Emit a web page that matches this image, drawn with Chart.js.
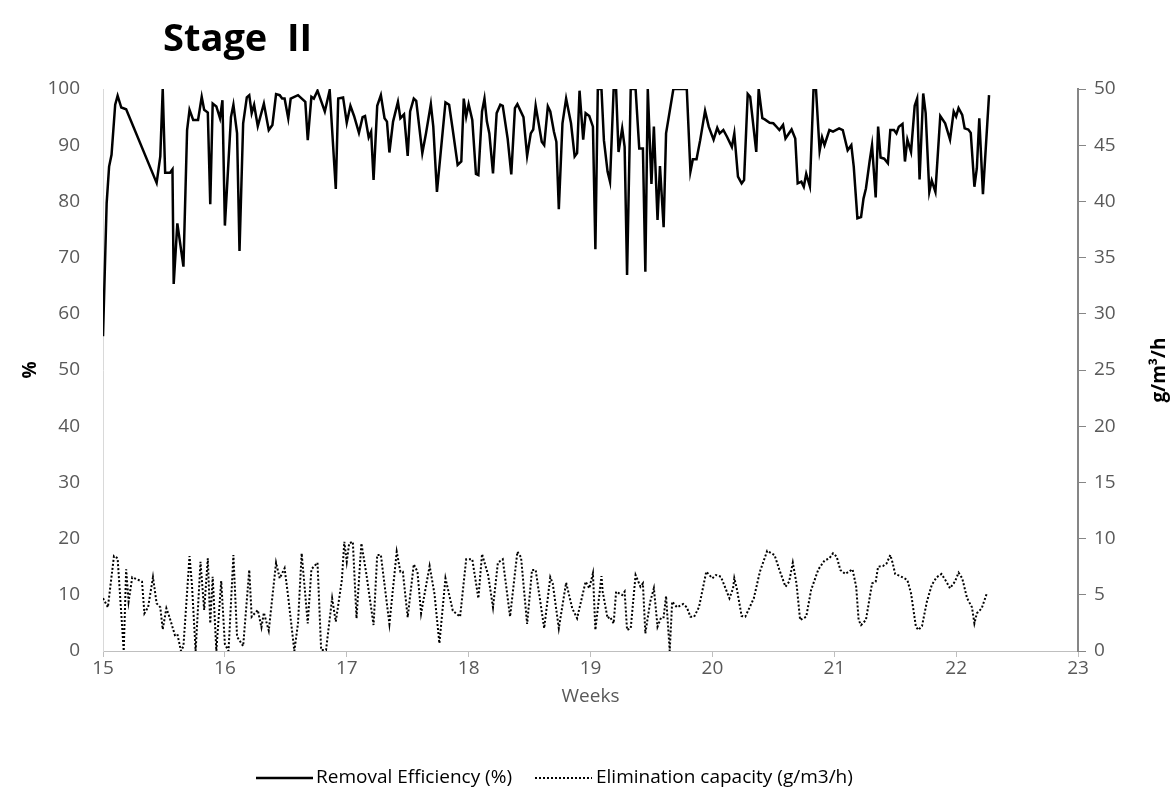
<!DOCTYPE html>
<html><head><meta charset="utf-8">
<script src="https://cdn.jsdelivr.net/npm/chart.js@4.4.1/dist/chart.umd.min.js"></script>
<style>html,body{margin:0;padding:0;background:#fff;}#wrap{width:1174px;height:796px;}</style>
</head><body><div id="wrap"><canvas id="c" width="1174" height="796"></canvas></div>
<script>
const titleText = 'Stage  II';
const xTitle = 'Weeks';
const yLeftTitle = '%';
const yRightTitle = 'g/m³/h';
const seriesNames = ['Removal Efficiency (%)', 'Elimination capacity (g/m3/h)'];
const xTicks = [15,16,17,18,19,20,21,22,23];

const reWeeks = [15.00,15.03,15.05,15.07,15.10,15.12,15.15,15.19,15.44,15.47,
15.49,15.51,15.55,15.57,15.58,15.61,15.66,15.69,15.71,15.74,
15.78,15.81,15.83,15.86,15.88,15.90,15.93,15.96,15.98,16.00,
16.05,16.07,16.10,16.12,16.15,16.18,16.20,16.22,16.24,16.27,
16.32,16.36,16.39,16.42,16.45,16.47,16.49,16.52,16.54,16.60,
16.66,16.68,16.71,16.73,16.76,16.82,16.86,16.91,16.93,16.97,
17.00,17.03,17.06,17.10,17.13,17.15,17.18,17.20,17.22,17.25,
17.28,17.31,17.33,17.35,17.38,17.42,17.44,17.47,17.50,17.52,
17.55,17.57,17.62,17.65,17.69,17.71,17.74,17.81,17.84,17.87,
17.91,17.94,17.96,17.98,18.00,18.03,18.06,18.08,18.11,18.13,
18.15,18.17,18.20,18.23,18.26,18.28,18.32,18.35,18.38,18.40,
18.45,18.48,18.51,18.53,18.55,18.60,18.62,18.65,18.67,18.70,
18.72,18.74,18.77,18.80,18.84,18.87,18.89,18.91,18.94,18.96,
18.99,19.02,19.04,19.06,19.09,19.11,19.14,19.16,19.19,19.21,
19.23,19.26,19.28,19.30,19.33,19.37,19.40,19.43,19.45,19.47,
19.50,19.52,19.55,19.57,19.60,19.62,19.68,19.79,19.82,19.84,
19.87,19.90,19.94,19.97,20.01,20.04,20.06,20.09,20.12,20.16,
20.18,20.21,20.24,20.26,20.29,20.31,20.36,20.38,20.41,20.43,
20.47,20.50,20.53,20.55,20.58,20.60,20.65,20.68,20.70,20.73,
20.75,20.77,20.80,20.83,20.85,20.88,20.90,20.92,20.96,20.99,
21.04,21.07,21.11,21.14,21.16,21.19,21.22,21.24,21.26,21.29,
21.31,21.34,21.36,21.38,21.41,21.44,21.46,21.49,21.51,21.53,
21.56,21.58,21.60,21.63,21.66,21.68,21.70,21.73,21.75,21.78,
21.80,21.83,21.87,21.91,21.95,21.98,22.00,22.02,22.05,22.07,
22.10,22.12,22.15,22.17,22.19,22.22,22.27];
const reValues = [56,79.7,86.2,88.3,97.2,98.8,96.7,96.4,83.3,88,
100,85.1,85.1,85.7,65.3,76.1,68.4,92.7,96.3,94.5,
94.5,98.6,96.3,95.8,79.5,97.4,96.9,94.8,98,75.7,
95,97.2,92.1,71.2,93.9,98.5,98.9,95.7,97.2,93.4,
97.4,92.7,93.6,99.1,98.9,98.3,98.3,94.8,98.3,98.9,
97.7,90.9,98.6,98.3,99.7,96,99.8,82.2,98.3,98.5,
94,97,95.2,92.2,95,95.2,91.4,92.4,83.8,97,
98.9,94.8,94.2,88.7,94.2,97.7,94.8,95.5,88.1,96,
98.3,97.9,88.6,92.1,97.3,93.3,81.7,97.6,97.2,92.7,
86.5,87.1,98.3,95.1,97.3,94.5,84.9,84.7,96,98.3,
94.2,92.1,85,95.7,97.2,97,91.2,84.8,96.6,97.3,
95,88.1,92.1,92.8,97,90.6,90,96.9,96,92.4,
90.6,78.6,93.9,98.3,93.9,88,88.6,99.7,91,95.7,
95.2,93.3,71.5,100,100,90.9,85.3,83.5,100,100,
88.8,93,89.7,66.9,100,100,89.4,89.4,67.5,100,
83.1,93.3,76.7,86.3,75.4,92.1,100,100,85.3,87.5,
87.5,90.9,96.1,93.3,91,93.1,92.1,92.7,91.5,89.7,
92.1,84.4,83.2,83.8,99.1,98.6,88.8,100,94.8,94.6,
94,93.9,93.2,92.7,93.6,91.2,92.8,91.2,83.2,83.5,
82.6,84.9,82.7,100,100,89,91.4,90,92.7,92.4,
93,92.7,89.1,90,86.2,77,77.2,80.5,82.3,87.1,
90,80.7,93.3,87.8,87.6,86.8,92.7,92.7,92.1,93.3,
93.8,87.1,91,88.8,97,98.3,83.9,99.2,95.7,81.7,
83.7,81.7,95.2,93.9,91,96,95.1,96.6,95.4,93,
92.8,92.2,82.6,85.9,94.8,81.3,98.9];

const ecWeeks = [15.00,15.04,15.09,15.12,15.17,15.19,15.21,15.24,15.28,15.32,
15.34,15.37,15.41,15.44,15.47,15.49,15.52,15.54,15.59,15.61,
15.64,15.66,15.71,15.73,15.76,15.80,15.83,15.86,15.88,15.90,
15.93,15.97,16.00,16.03,16.07,16.10,16.15,16.20,16.22,16.27,
16.30,16.32,16.36,16.42,16.45,16.49,16.52,16.57,16.60,16.63,
16.68,16.71,16.76,16.79,16.83,16.88,16.91,16.96,16.98,17.00,
17.02,17.05,17.08,17.12,17.16,17.22,17.25,17.28,17.35,17.41,
17.44,17.46,17.50,17.55,17.58,17.61,17.68,17.72,17.76,17.81,
17.87,17.93,17.98,18.03,18.08,18.11,18.16,18.20,18.24,18.28,
18.34,18.40,18.43,18.48,18.52,18.55,18.62,18.67,18.69,18.74,
18.80,18.85,18.89,18.96,18.99,19.02,19.04,19.09,19.10,19.14,
19.16,19.19,19.21,19.26,19.28,19.30,19.33,19.37,19.41,19.43,
19.45,19.49,19.52,19.55,19.58,19.60,19.62,19.65,19.67,19.71,
19.76,19.79,19.82,19.85,19.89,19.95,20.00,20.03,20.07,20.14,
20.17,20.18,20.20,20.24,20.27,20.34,20.39,20.45,20.51,20.55,
20.60,20.63,20.66,20.69,20.72,20.77,20.81,20.87,20.92,20.96,
20.99,21.02,21.05,21.09,21.15,21.18,21.20,21.22,21.26,21.31,
21.34,21.36,21.40,21.43,21.46,21.48,21.50,21.54,21.60,21.63,
21.67,21.69,21.72,21.76,21.80,21.84,21.88,21.92,21.95,21.99,
22.02,22.05,22.09,22.13,22.15,22.17,22.21,22.25];
const ecValues = [4.69,3.89,8.45,8.25,0,7.27,4.39,6.56,6.38,6.17,
3.35,3.89,6.56,4.24,3.89,1.93,3.8,3.2,1.42,1.51,
0,0.44,8.45,5.87,0,7.94,3.65,8.25,2.46,6.61,
0,6.23,0.62,0,8.54,1.27,0.44,7.21,3.05,3.65,
2.11,3.41,1.81,7.86,6.47,7.36,4.78,0,2.46,8.69,
2.46,7.27,7.86,0.09,0.09,4.69,2.61,6.32,9.72,7.94,
9.58,9.72,2.91,9.58,6.91,2.31,8.54,8.54,2.4,8.83,
7.06,7.06,3.0,7.71,7.06,3.35,7.56,5.07,0.68,6.47,
3.59,3.05,8.16,8.16,4.69,8.63,6.76,3.89,7.86,8.16,
3.05,8.83,8.34,2.4,7.21,7.21,2.02,6.56,6.02,2.02,
6.08,3.8,2.91,6.17,5.58,6.91,1.87,6.67,5.28,2.91,
3.05,2.46,5.28,4.98,5.28,1.87,2.02,6.76,5.72,6.02,
1.57,4.39,5.58,2.16,3.0,3.0,4.89,0,4.39,3.89,
4.18,3.89,3.05,3.05,3.89,7.06,6.47,6.76,6.61,4.69,
5.58,6.47,5.58,3.11,3.05,4.69,7.06,8.92,8.54,7.21,
5.72,6.17,7.86,6.02,2.76,3.05,5.43,7.27,8.04,8.25,
8.69,8.39,7.21,6.85,7.27,5.72,2.76,2.31,2.76,6.02,
6.17,7.5,7.56,7.8,8.54,7.8,6.85,6.67,6.32,5.13,
2.16,1.87,2.22,4.39,5.87,6.56,6.85,6.17,5.58,6.17,
6.97,6.47,4.69,3.89,2.46,3.35,3.8,5.07];

const FONT = '"Open Sans", "DejaVu Sans", sans-serif';
const GREY = '#595959';

const rePoints = reWeeks.map((w, i) => ({x: w, y: reValues[i]}));
const ecPoints = ecWeeks.map((w, i) => ({x: w, y: ecValues[i]}));

// legend entries: sample start x and text start x (layout only)
const legendSlots = [{lineX: 256, textX: 316}, {lineX: 535, textX: 596}];

const extraText = {
  id: 'extraText',
  afterDraw(chart) {
    const ctx = chart.ctx;
    ctx.save();
    // chart title
    ctx.font = 'bold 38px ' + FONT;
    ctx.fillStyle = '#000';
    ctx.textAlign = 'left';
    ctx.textBaseline = 'alphabetic';
    ctx.fillText(titleText, 163, 51);
    // legend
    const ly = 778;
    chart.data.datasets.forEach((ds, i) => {
      const slot = legendSlots[i];
      ctx.save();
      ctx.strokeStyle = ds.borderColor;
      ctx.lineWidth = ds.borderWidth;
      ctx.setLineDash(ds.borderDash || []);
      ctx.beginPath();
      ctx.moveTo(slot.lineX, ly);
      ctx.lineTo(slot.lineX + 57, ly);
      ctx.stroke();
      ctx.restore();
      ctx.font = '19px ' + FONT;
      ctx.fillStyle = '#000';
      ctx.textAlign = 'left';
      ctx.textBaseline = 'middle';
      ctx.fillText(ds.label, slot.textX, ly);
    });
    // right axis title, reading bottom-to-top
    const a = chart.chartArea;
    ctx.font = 'bold 19px ' + FONT;
    ctx.textAlign = 'center';
    ctx.textBaseline = 'middle';
    ctx.translate(1160, (a.top + a.bottom) / 2);
    ctx.rotate(-Math.PI / 2);
    ctx.fillText(yRightTitle, 0, 0);
    ctx.restore();
  }
};

new Chart(document.getElementById('c'), {
  type: 'line',
  data: {
    datasets: [
      {label: seriesNames[0], data: rePoints, yAxisID: 'y', borderColor: '#000', backgroundColor: '#000',
       borderWidth: 2.5, pointRadius: 0, tension: 0, fill: false},
      {label: seriesNames[1], data: ecPoints, yAxisID: 'y2', borderColor: '#000', backgroundColor: '#000',
       borderWidth: 2, borderDash: [2, 2], pointRadius: 0, tension: 0, fill: false}
    ]
  },
  options: {
    responsive: false,
    animation: false,
    layout: {padding: {top: 89, left: 0, right: 0, bottom: 46}},
    plugins: {
      title: {display: false},
      tooltip: {enabled: false},
      legend: {display: false}
    },
    scales: {
      x: {
        type: 'linear', min: 15, max: 23,
        afterBuildTicks: (s) => { s.ticks = xTicks.map(v => ({value: v})); },
        grid: {display: true, drawOnChartArea: false, drawTicks: true, tickLength: 6, color: '#bfbfbf'},
        border: {display: true, color: '#bfbfbf', width: 1},
        ticks: {color: GREY, font: {family: FONT, size: 19}, padding: 0, maxRotation: 0, autoSkip: false},
        title: {display: true, text: xTitle, color: GREY, font: {family: FONT, size: 19}, padding: {top: 0, bottom: 42}},
        afterFit: (s) => { s.height = 99; }
      },
      y: {
        position: 'left', min: 0, max: 100,
        ticks: {stepSize: 10, color: GREY, font: {family: FONT, size: 19}, padding: 23},
        grid: {display: false, drawTicks: false},
        border: {display: true, color: '#d9d9d9', width: 1},
        title: {display: true, text: yLeftTitle, color: '#000', font: {family: FONT, size: 19, weight: 'bold'}, padding: {top: 19, bottom: 0}},
        afterFit: (s) => { s.width = 103; }
      },
      y2: {
        position: 'right', min: 0, max: 50,
        ticks: {stepSize: 5, color: GREY, font: {family: FONT, size: 19}, padding: 8},
        grid: {display: true, drawOnChartArea: false, drawTicks: true, tickLength: 8, color: '#868686'},
        border: {display: true, color: '#868686', width: 2},
        title: {display: false},
        afterFit: (s) => { s.width = 96; }
      }
    }
  },
  plugins: [extraText]
});
</script>
</body></html>
